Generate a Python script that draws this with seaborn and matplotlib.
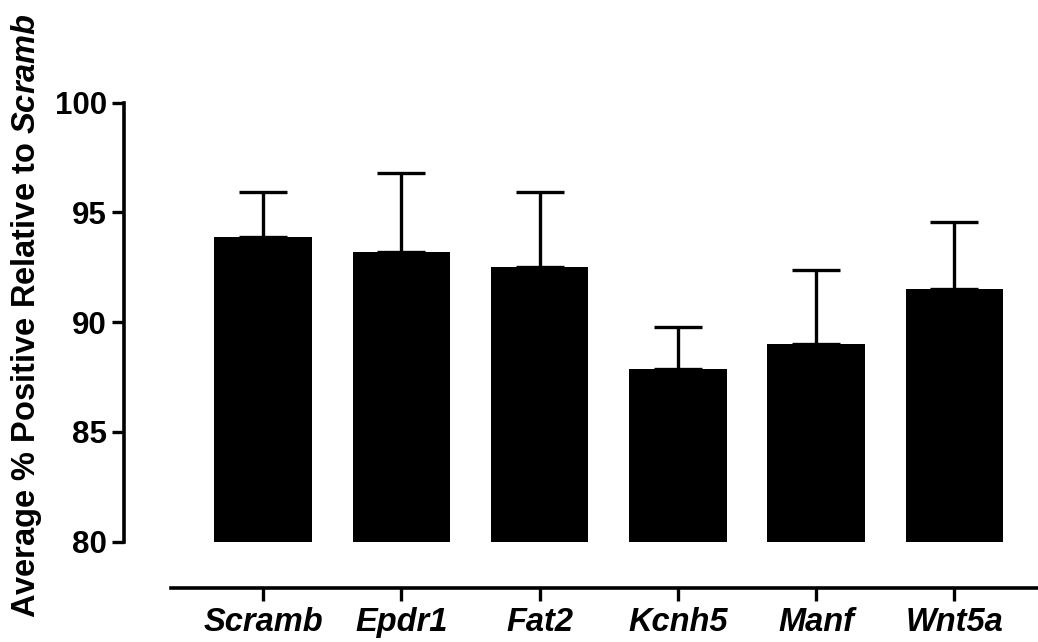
import numpy as np
import pandas as pd
import seaborn as sns
import matplotlib.pyplot as plt

# Данные
genes = ["Scramb", "Epdr1", "Fat2", "Kcnh5", "Manf", "Wnt5a"]
means = [93.87, 93.19, 92.51, 87.87, 89.02, 91.52]
sem = [2.07, 3.63, 3.43, 1.93, 3.35, 3.05]
yticks = [80, 85, 90, 95, 100]

sns.set_theme(style="ticks")
plt.rcParams['font.family'] = ['Liberation Sans', 'DejaVu Sans']
plt.rcParams['font.weight'] = 'bold'
plt.rcParams['text.color'] = 'black'
plt.rcParams['mathtext.fontset'] = 'custom'
plt.rcParams['mathtext.it'] = 'Liberation Sans:italic:bold'
plt.rcParams['mathtext.rm'] = 'Liberation Sans:bold'

df = pd.DataFrame({"gene": genes, "mean": means, "sem": sem})

fig = plt.figure(figsize=(10.38, 6.42), dpi=100)
ax = fig.add_axes([124 / 1038, (642 - 541.7) / 642, (1038 - 124) / 1038, 439 / 642])

sns.barplot(data=df, x="gene", y="mean", color="black", saturation=1,
            width=0.705, errorbar=None, ax=ax, linewidth=0)

# только верхние усы ошибок
ax.errorbar(np.arange(len(genes)), df["mean"], yerr=[np.zeros(len(sem)), df["sem"]],
            fmt="none", ecolor="black", elinewidth=2.4, capsize=17.5, capthick=2.4,
            clip_on=False)

# оси в стиле Prism: сначала сдвигаем нижнюю ось (это сбрасывает тики)
for s in ["top", "right"]:
    ax.spines[s].set_visible(False)
ax.spines["bottom"].set_position(("outward", 33.3))
for s in ["left", "bottom"]:
    ax.spines[s].set_linewidth(2.6)
    ax.spines[s].set_color("black")

ax.set_ylim(80, 100)
ax.set_xlim(-1.005, 5.604)
ax.spines["left"].set_bounds(80, 100)
ax.spines["bottom"].set_bounds(-0.665, 5.604)

ax.set_yticks(yticks)
ax.set_yticklabels([str(t) for t in yticks], fontsize=22.5, fontweight='bold')
ax.set_xticks(np.arange(len(genes)))
ax.set_xticklabels(genes, fontsize=23.5, fontweight='bold', fontstyle='italic')

ax.tick_params(axis="both", direction="out", length=9, width=2.4, color="black",
               labelcolor="black")
ax.tick_params(axis="y", pad=3.5)
ax.tick_params(axis="x", pad=5)
ax.set_xlabel("")
ax.set_ylabel("")

fig.text(27 / 1038, 1 - 315.5 / 642, r"Average % Positive Relative to $\mathit{Scramb}$",
         rotation=90, ha="center", va="center", fontsize=23.5, fontweight='bold',
         color="black")

fig.savefig("out.png", dpi=100, facecolor="white")
